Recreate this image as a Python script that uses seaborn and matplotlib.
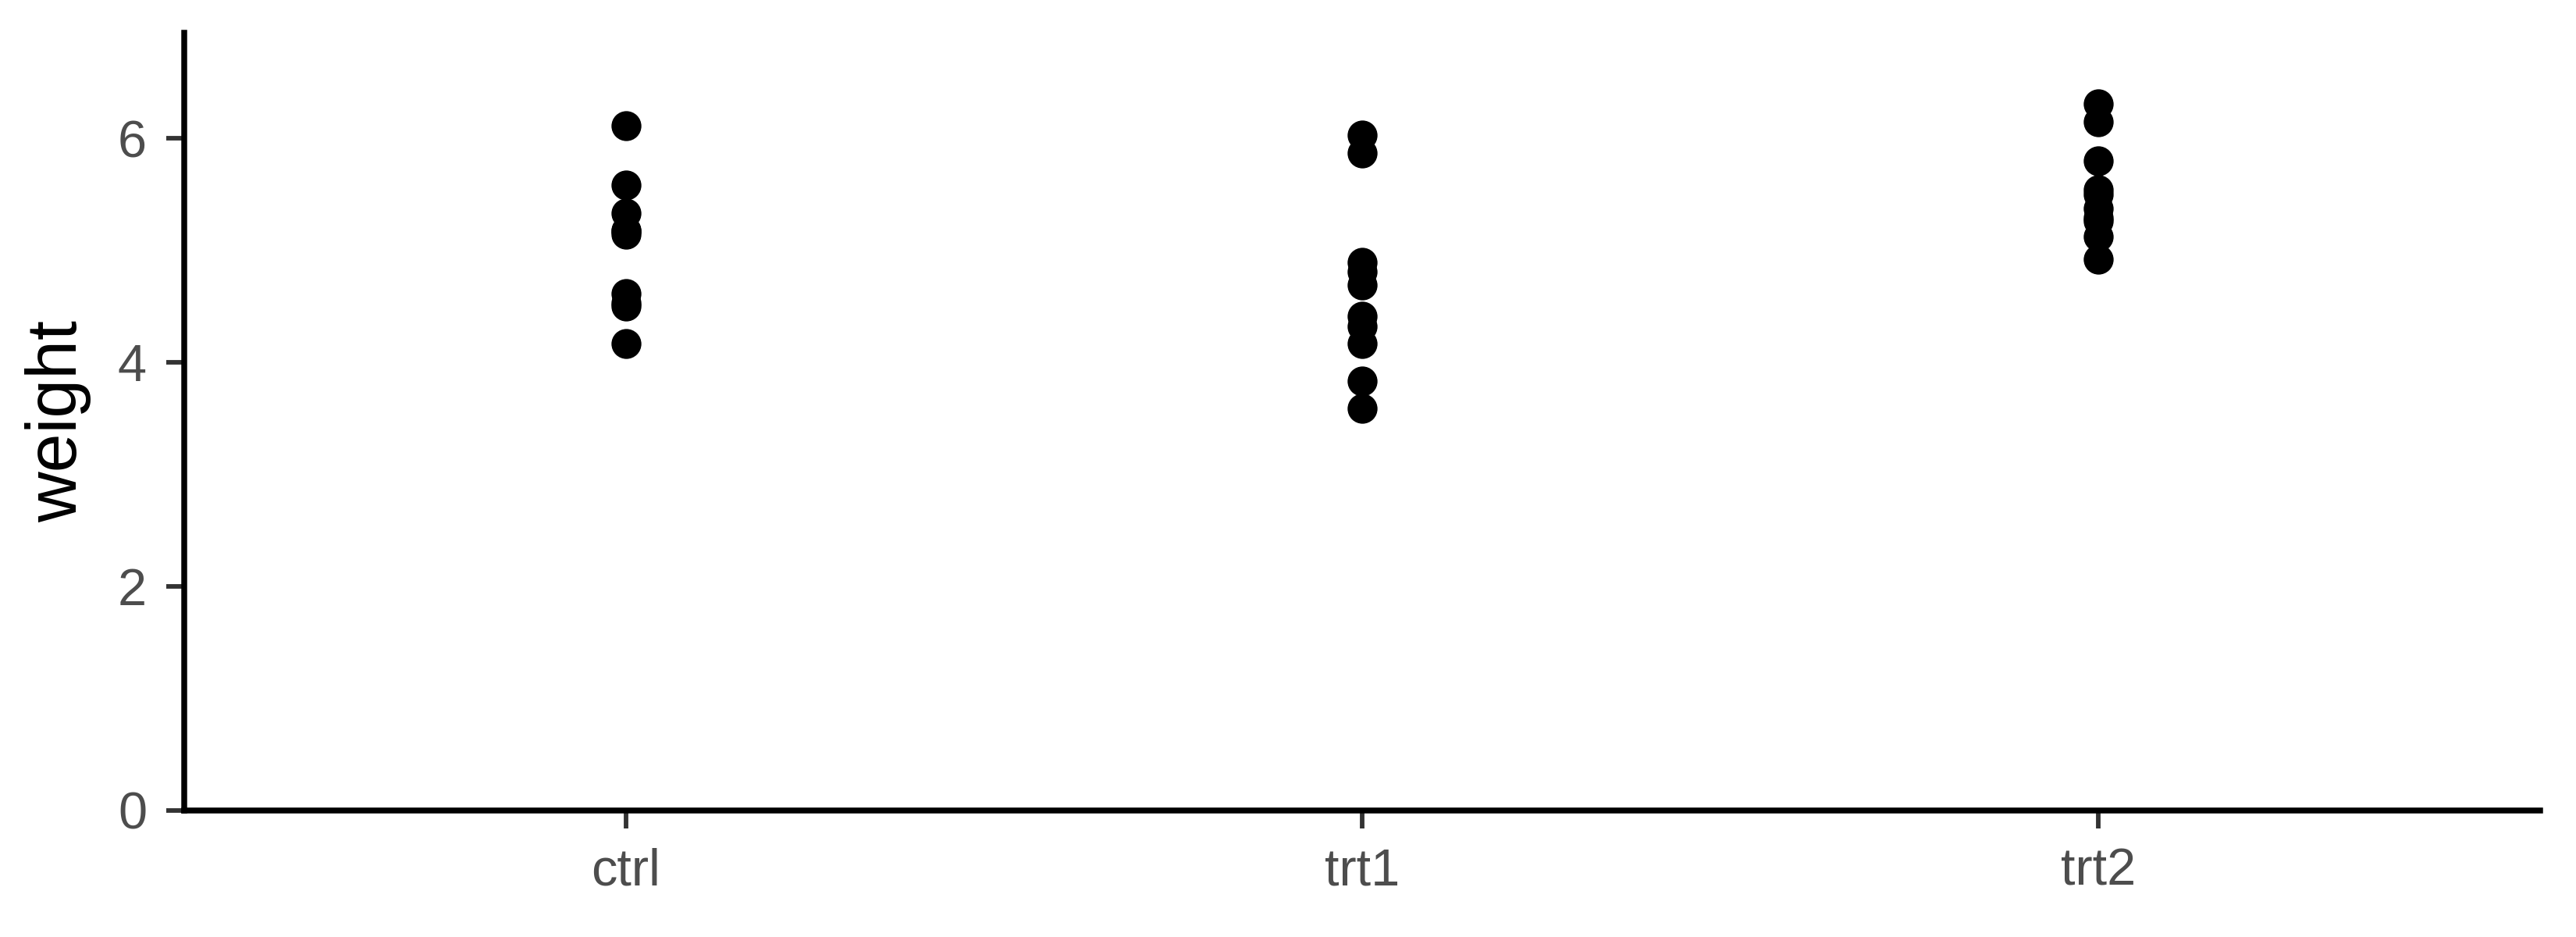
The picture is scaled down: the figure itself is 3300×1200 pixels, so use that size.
import pandas as pd
import matplotlib
matplotlib.use("Agg")
import matplotlib.pyplot as plt
import seaborn as sns

# PlantGrowth values
groups = ['ctrl', 'trt1', 'trt2']
ctrl = [4.17, 5.58, 5.18, 6.11, 4.50, 4.61, 5.17, 4.53, 5.33, 5.14]
trt1 = [4.81, 4.17, 4.41, 3.59, 5.87, 3.83, 6.03, 4.89, 4.32, 4.69]
trt2 = [6.31, 5.12, 5.54, 5.50, 5.37, 5.29, 4.92, 6.15, 5.80, 5.26]
y_ticks = [0, 2, 4, 6]

df = pd.DataFrame({
    'group': ['ctrl'] * len(ctrl) + ['trt1'] * len(trt1) + ['trt2'] * len(trt2),
    'weight': ctrl + trt1 + trt2,
})

sns.set_theme(style='ticks')
plt.rcParams['font.family'] = ['Liberation Sans', 'DejaVu Sans']

fig = plt.figure(figsize=(11, 4), dpi=300)
ax = fig.add_axes([0.0715, 0.135, 0.9145, 0.83])

sns.stripplot(data=df, x='group', y='weight', order=groups, jitter=False,
              color='black', size=9.2, linewidth=0, ax=ax)

ax.set_xlim(-0.6, 2.6)
ax.set_ylim(0, max(trt2) * 1.1)
ax.set_yticks(y_ticks)
ax.set_xlabel('')
ax.set_ylabel('weight', fontsize=21.5, color='black', labelpad=8)

for side in ['top', 'right']:
    ax.spines[side].set_visible(False)
for side in ['left', 'bottom']:
    ax.spines[side].set_linewidth(1.8)
    ax.spines[side].set_color('black')

ax.tick_params(axis='both', length=5.5, width=1.4, color='#333333',
               labelsize=16, labelcolor='#4D4D4D', pad=6)

fig.savefig('out.png', dpi=300, facecolor='white')
